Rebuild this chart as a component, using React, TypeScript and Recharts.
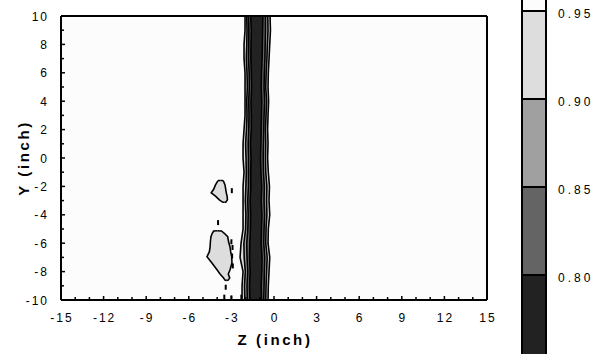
import React from 'react';
import {
  ComposedChart,
  BarChart,
  Area,
  Bar,
  Scatter,
  XAxis,
  YAxis,
  CartesianGrid,
  ReferenceLine,
  Label,
} from 'recharts';

// Grid rows (Y, inch) for the wake band
const rowY = [-10, -9, -8, -7, -6, -5, -4, -3, -2, -1, 0, 1, 2, 3, 4, 5, 6, 7, 8, 9, 10];

// Z positions (inch) where each contour level crosses, left and right side of the band
const c95Left = [-2.25, -2.25, -2.18, -2.39, -2.32, -2.18, -2.18, -2.18, -2.18, -2.11, -2.18, -2.18, -2.11, -2.04, -2.04, -2.04, -2.04, -2.11, -2.11, -2.04, -2.04];
const c90Left = [-2.05, -2.08, -2.02, -2.1, -2.12, -2.0, -1.98, -2.02, -1.98, -1.95, -1.97, -2.0, -1.94, -1.9, -1.92, -1.88, -1.9, -1.95, -1.92, -1.9, -1.92];
const c85Left = [-1.88, -1.9, -1.85, -1.9, -1.92, -1.84, -1.82, -1.85, -1.8, -1.8, -1.8, -1.82, -1.78, -1.76, -1.78, -1.74, -1.75, -1.8, -1.78, -1.77, -1.8];
const c80Left = [-1.7, -1.72, -1.68, -1.72, -1.7, -1.66, -1.65, -1.68, -1.63, -1.64, -1.62, -1.66, -1.6, -1.6, -1.62, -1.58, -1.6, -1.63, -1.62, -1.6, -1.64];
const c80Right = [-0.88, -0.9, -0.86, -0.84, -0.9, -0.88, -0.85, -0.9, -0.86, -0.92, -0.95, -0.92, -0.9, -0.88, -0.86, -0.9, -0.88, -0.84, -0.82, -0.8, -0.78];
const c85Right = [-0.72, -0.7, -0.68, -0.65, -0.72, -0.7, -0.66, -0.7, -0.68, -0.74, -0.76, -0.74, -0.72, -0.7, -0.66, -0.7, -0.68, -0.64, -0.62, -0.6, -0.6];
const c90Right = [-0.58, -0.56, -0.52, -0.48, -0.58, -0.56, -0.5, -0.52, -0.5, -0.58, -0.6, -0.58, -0.6, -0.56, -0.52, -0.58, -0.55, -0.5, -0.46, -0.42, -0.44];
const c95Right = [-0.42, -0.4, -0.35, -0.3, -0.42, -0.4, -0.3, -0.35, -0.32, -0.4, -0.45, -0.42, -0.45, -0.42, -0.38, -0.42, -0.4, -0.35, -0.3, -0.25, -0.28];

// Upper island below 0.95 (near Z = -4, Y = -2.4)
const islandAY = [-3.12, -3.12, -2.95, -2.7, -2.45, -2.2, -1.9, -1.65, -1.58, -1.58];
const islandALeft = [-3.5, -3.6, -3.85, -4.1, -4.42, -4.25, -4.12, -3.98, -3.9, -3.76];
const islandARight = [-3.5, -3.4, -3.28, -3.3, -3.36, -3.4, -3.45, -3.55, -3.62, -3.76];

// Lower island below 0.95 (near Z = -4, Y = -7)
const islandBY = [-8.62, -8.6, -8.45, -8.17, -7.89, -7.4, -6.95, -6.6, -6.25, -5.9, -5.54, -5.3, -5.14, -5.12];
const islandBLeft = [-3.36, -3.45, -3.55, -3.8, -4.0, -4.37, -4.72, -4.55, -4.5, -4.48, -4.44, -4.35, -4.25, -3.98];
const islandBRight = [-3.36, -3.22, -3.12, -3.22, -3.1, -2.96, -2.98, -3.05, -3.1, -3.2, -3.26, -3.5, -3.7, -3.98];

// Isolated small contour fragments
const speckZ = [-2.97, -3.94, -3.0, -2.92, -2.95, -2.9, -3.4, -3.5, -2.3, -3.0];
const speckY = [-2.3, -4.55, -5.9, -6.3, -6.9, -7.6, -9.1, -9.8, -9.8, -9.85];

// Colour levels
const levels = [0.75, 0.8, 0.85, 0.9, 0.95, 1.0];
const levelColors = ['#222222', '#646464', '#a0a0a0', '#dddddd', '#fcfcfc'];
const legendTicks = [0.8, 0.85, 0.9, 0.95];

const zTicks = [-15, -14, -13, -12, -11, -10, -9, -8, -7, -6, -5, -4, -3, -2, -1, 0, 1, 2, 3, 4, 5, 6, 7, 8, 9, 10, 11, 12, 13, 14, 15];
const yTicks = [-10, -9, -8, -7, -6, -5, -4, -3, -2, -1, 0, 1, 2, 3, 4, 5, 6, 7, 8, 9, 10];

const bandData = rowY.map((y, i) => ({
  y,
  c95: [c95Left[i], c95Right[i]],
  c90: [c90Left[i], c90Right[i]],
  c85: [c85Left[i], c85Right[i]],
  c80: [c80Left[i], c80Right[i]],
}));
const islandA = islandAY.map((y, i) => ({ y, r: [islandALeft[i], islandARight[i]] }));
const islandB = islandBY.map((y, i) => ({ y, r: [islandBLeft[i], islandBRight[i]] }));
const specks = speckZ.map((z, i) => ({ z, y: speckY[i] }));

const legendRow: Record<string, number | string> = { name: 'k' };
levelColors.forEach((_, i) => {
  legendRow['s' + i] = i === 0 ? levels[1] : levels[i + 1] - levels[i];
});

const FONT = '"Liberation Sans", Arial, sans-serif';

const ZTick = (props: any) => {
  const { x, y, payload } = props;
  const v = payload.value;
  const major = v % 3 === 0;
  return (
    <g>
      <line x1={x} x2={x} y1={y} y2={y - (major ? 4 : 3)} stroke="#000" strokeWidth={1.5} />
      {major && (
        <text x={x + 1} y={y + 22} textAnchor="middle" fontSize={12} letterSpacing={2} fill="#000" fontFamily={FONT}>
          {v}
        </text>
      )}
    </g>
  );
};

const YTick = (props: any) => {
  const { x, y, payload } = props;
  const v = payload.value;
  const major = v % 2 === 0;
  return (
    <g>
      <line x1={x} x2={x + (major ? 4 : 3)} y1={y} y2={y} stroke="#000" strokeWidth={1.5} />
      {major && (
        <text x={x - 12} y={y + 4.5} textAnchor="end" fontSize={12} letterSpacing={2} fill="#000" fontFamily={FONT}>
          {v}
        </text>
      )}
    </g>
  );
};

const LegendTick = (props: any) => {
  const { x, y, payload } = props;
  return (
    <text x={x} y={y + 7.5} textAnchor="start" fontSize={12} letterSpacing={3} fill="#000" fontFamily={FONT}>
      {payload.value.toFixed(2)}
    </text>
  );
};

const contourProps = {
  type: 'linear' as const,
  stroke: '#000',
  strokeWidth: 1.6,
  fillOpacity: 1,
  dot: false,
  activeDot: false,
  isAnimationActive: false,
};

export default function App() {
  return (
    <div style={{ position: 'absolute', left: 0, top: 0, width: 600, height: 354, overflow: 'hidden', background: '#fff', fontFamily: FONT }}>
      <div style={{ position: 'absolute', left: 0, top: 0 }}>
        <ComposedChart layout="vertical" width={500} height={354} margin={{ top: 16, right: 13, bottom: 24, left: 0 }}>
          <CartesianGrid horizontal={false} vertical={false} fill="#fcfcfc" />
          <XAxis
            type="number"
            dataKey="z"
            domain={[-15, 15]}
            ticks={zTicks}
            interval={0}
            height={30}
            tickSize={0}
            tickMargin={0}
            tickLine={false}
            axisLine={{ stroke: '#000', strokeWidth: 2 }}
            tick={<ZTick />}
          >
            <Label
              content={(p: any) => {
                const vb = p.viewBox || { x: 61, y: 300, width: 426, height: 30 };
                return (
                  <text x={vb.x + vb.width / 2 + 1} y={345} textAnchor="middle" fontSize={15} fontWeight="bold" letterSpacing={2.6} fill="#000" fontFamily={FONT}>
                    Z (inch)
                  </text>
                );
              }}
            />
          </XAxis>
          <YAxis
            type="number"
            dataKey="y"
            domain={[-10, 10]}
            reversed
            ticks={yTicks}
            interval={0}
            width={61}
            tickSize={0}
            tickMargin={0}
            tickLine={false}
            axisLine={{ stroke: '#000', strokeWidth: 2 }}
            tick={<YTick />}
          >
            <Label
              content={(p: any) => {
                const vb = p.viewBox || { x: 0, y: 16, width: 61, height: 284 };
                const cx = vb.x + 23;
                const cy = vb.y + vb.height / 2;
                return (
                  <text x={cx} y={cy} transform={`rotate(-90 ${cx} ${cy})`} textAnchor="middle" dominantBaseline="central" fontSize={15} fontWeight="bold" letterSpacing={2.6} fill="#000" fontFamily={FONT}>
                    Y (inch)
                  </text>
                );
              }}
            />
          </YAxis>

          <Area {...contourProps} data={bandData} dataKey={(d: any) => d.c95} fill={levelColors[3]} />
          <Area {...contourProps} data={bandData} dataKey={(d: any) => d.c90} fill={levelColors[2]} />
          <Area {...contourProps} data={bandData} dataKey={(d: any) => d.c85} fill={levelColors[1]} />
          <Area {...contourProps} data={bandData} dataKey={(d: any) => d.c80} fill={levelColors[0]} />
          <Area {...contourProps} data={islandA} dataKey={(d: any) => d.r} fill={levelColors[3]} />
          <Area {...contourProps} data={islandB} dataKey={(d: any) => d.r} fill={levelColors[3]} />
          <Scatter
            data={specks}
            dataKey="y"
            isAnimationActive={false}
            shape={(p: any) => <rect x={p.cx - 1} y={p.cy - 2.5} width={2} height={5} fill="#000" />}
          />

          <ReferenceLine y={10} stroke="#000" strokeWidth={2} />
          <ReferenceLine x={15} stroke="#000" strokeWidth={2} />
        </ComposedChart>
      </div>

      {/* colour scale; its plot runs past the page edges so the end cells look open */}
      <div style={{ position: 'absolute', left: 500, top: -20 }}>
        <BarChart width={100} height={394} data={[legendRow]} margin={{ top: 0, right: 0, bottom: 0, left: 20 }} barCategoryGap={0}>
          <XAxis dataKey="name" hide />
          <YAxis
            orientation="right"
            type="number"
            domain={[0.74375, 0.96761]}
            allowDataOverflow
            ticks={legendTicks}
            interval={0}
            width={52}
            tickSize={0}
            tickMargin={10}
            tickLine={false}
            axisLine={false}
            tick={<LegendTick />}
          />
          {levelColors.map((c, i) => (
            <Bar
              key={i}
              dataKey={'s' + i}
              stackId="bar"
              fill={c}
              stroke="#000"
              strokeWidth={2}
              barSize={24}
              isAnimationActive={false}
            />
          ))}
        </BarChart>
      </div>
    </div>
  );
}
